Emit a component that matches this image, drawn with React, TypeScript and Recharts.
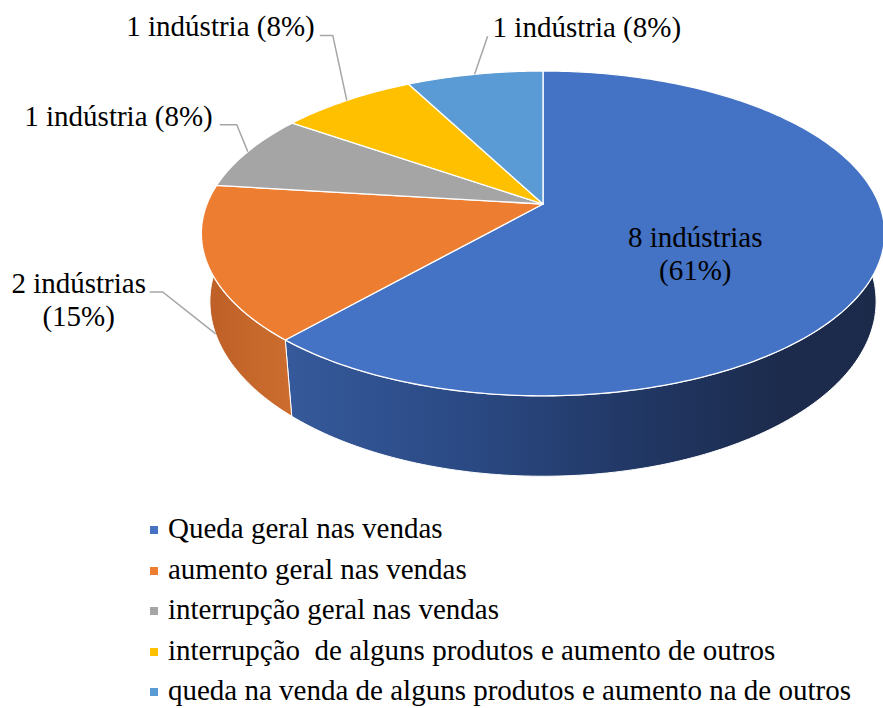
import { PieChart, Pie, Cell, Legend } from "recharts"

// categorias e valores (nº de indústrias)
const CATEGORIES = [
  "Queda geral nas vendas",
  "aumento geral nas vendas",
  "interrupção geral nas vendas",
  "interrupção  de alguns produtos e aumento de outros",
  "queda na venda de alguns produtos e aumento na de outros",
]
const INDUSTRIES = [8, 2, 1, 1, 1]
const SLICE_TEXT = [
  ["8 indústrias", "(61%)"],
  ["2 indústrias", "(15%)"],
  ["1 indústria (8%)"],
  ["1 indústria (8%)"],
  ["1 indústria (8%)"],
]

const TOP_COLORS = ["#4472C4", "#ED7D31", "#A5A5A5", "#FFC000", "#5B9BD5"]
const SIDE_STOPS: [number, string][][] = [
  [[0, "#3b60a5"], [0.13, "#35599a"], [0.38, "#2b4a85"], [0.64, "#213764"], [0.85, "#1c2b4c"], [1, "#1c2a4a"]],
  [[0, "#bd5e27"], [0.14, "#cd6e2f"], [1, "#cd6e2f"]],
  [[0, "#7c7c7c"], [1, "#7c7c7c"]],
  [[0, "#bf9000"], [1, "#bf9000"]],
  [[0, "#41719c"], [1, "#41719c"]],
]

// layout dos rótulos (relativo ao ponto de ancoragem)
const LABEL_LAYOUT = [
  { inside: true, r: 0.47, dy: 16 },
  { wall: true, ex: -53, ey: -42, run: -13, textX: -71, dir: "middle" },
  { ex: -11, ey: -27, run: -17, textX: -7, dir: "end" },
  { ex: -14, ey: -65, run: -13, textX: -5, dir: "end" },
  { ex: 13, ey: -38, run: 0, textX: 5, dir: "start" },
]

// projeção em perspectiva do disco
const TILT = 0.4676
const PERSP = 0.181
const DEPTH = 0.196
const SHRINK = 0.975
const FONT = "Liberation Serif, Times New Roman, serif"

const project = (cx: number, cy: number, R: number, deg: number, r = 1, bottom = false) => {
  const a = (deg * Math.PI) / 180
  const u = r * Math.cos(a)
  const v = r * Math.sin(a)
  const w = 1 / (1 + PERSP * v)
  const k = bottom ? SHRINK : 1
  return [cx + R * u * w * k, cy - R * TILT * v * w + (bottom ? R * DEPTH * w : 0)]
}

const arcPoints = (cx: number, cy: number, R: number, from: number, to: number, bottom = false) => {
  const n = Math.max(2, Math.ceil(Math.abs(to - from)))
  const pts: number[][] = []
  for (let i = 0; i <= n; i++) pts.push(project(cx, cy, R, from + ((to - from) * i) / n, 1, bottom))
  return pts
}

const toPath = (pts: number[][]) =>
  pts.map((p, i) => `${i ? "L" : "M"}${p[0].toFixed(2)},${p[1].toFixed(2)}`).join(" ") + " Z"

const indexOf = (p: any) => {
  const name = p.name ?? p.payload?.name
  const i = CATEGORIES.indexOf(name)
  return i >= 0 ? i : p.index ?? 0
}

const Slice3D = (props: any) => {
  const { cx, cy, outerRadius: R, startAngle, endAngle } = props
  const i = indexOf(props)
  // só a parede da frente (ângulos entre -184 e 10)
  const lo = Math.max(Math.min(startAngle, endAngle), -184)
  const hi = Math.min(Math.max(startAngle, endAngle), 10)
  const top = [[cx, cy], ...arcPoints(cx, cy, R, startAngle, endAngle)]
  const gid = `side-grad-${i}`
  return (
    <g>
      <defs>
        <linearGradient id={gid} gradientUnits="userSpaceOnUse" x1={cx - R * 1.02} y1={0} x2={cx + R * 1.02} y2={0}>
          {SIDE_STOPS[i].map(([o, c]) => (
            <stop key={o} offset={o} stopColor={c} />
          ))}
        </linearGradient>
      </defs>
      {hi > lo && (
        <path
          d={toPath([...arcPoints(cx, cy, R, lo, hi), ...arcPoints(cx, cy, R, hi, lo, true)])}
          fill={`url(#${gid})`}
          stroke="#ffffff"
          strokeWidth={1}
        />
      )}
      <path d={toPath(top)} fill={TOP_COLORS[i]} stroke="#ffffff" strokeWidth={1.3} strokeLinejoin="round" />
    </g>
  )
}

const renderLabel = (props: any) => {
  const { cx, cy, outerRadius: R, midAngle } = props
  const i = indexOf(props)
  const lay: any = LABEL_LAYOUT[i]
  const lines = SLICE_TEXT[i]

  if (lay.inside) {
    const [x, y] = project(cx, cy, R, midAngle, lay.r)
    return (
      <g>
        {lines.map((t, k) => (
          <text key={k} x={x} y={y + lay.dy + k * 33} textAnchor="middle" fontFamily={FONT} fontSize={29} fill="#000">
            {t}
          </text>
        ))}
      </g>
    )
  }

  const top = project(cx, cy, R, midAngle)
  const anchor = lay.wall ? project(cx, cy, R, midAngle, 1, true) : top
  const ex = anchor[0] + lay.ex
  const ey = anchor[1] + lay.ey
  const endX = ex + lay.run
  return (
    <g>
      <polyline
        points={`${anchor[0]},${anchor[1]} ${ex},${ey} ${endX},${ey}`}
        fill="none"
        stroke="#a6a6a6"
        strokeWidth={1.5}
      />
      {lines.map((t, k) => (
        <text key={k} x={endX + lay.textX} y={ey + 1 + k * 33} textAnchor={lay.dir} fontFamily={FONT} fontSize={29} fill="#000">
          {t}
        </text>
      ))}
    </g>
  )
}

const renderLegend = (props: any) => {
  const payload = [...(props.payload || [])].sort(
    (a: any, b: any) => CATEGORIES.indexOf(a.value) - CATEGORIES.indexOf(b.value)
  )
  return (
    <div style={{ fontFamily: FONT, fontSize: 29, color: "#000" }}>
      {payload.map((item: any, i: number) => (
        <div key={i} style={{ display: "flex", alignItems: "center", height: 40.5, whiteSpace: "pre" }}>
          <span
            style={{
              display: "inline-block",
              width: 8,
              height: 8,
              marginRight: 10,
              position: "relative",
              top: 2,
              background: TOP_COLORS[CATEGORIES.indexOf(item.value)] || item.color,
            }}
          />
          <span style={{ lineHeight: "40.5px" }}>{item.value}</span>
        </div>
      ))}
    </div>
  )
}

const data = CATEGORIES.map((name, i) => ({ name, value: INDUSTRIES[i] }))

export default function App() {
  return (
    <div style={{ position: "absolute", left: 0, top: 0, width: 883, height: 708, background: "#fff", overflow: "hidden" }}>
      <PieChart width={883} height={708} margin={{ top: 0, right: 0, bottom: 0, left: 0 }}>
        <Pie
          data={data}
          dataKey="value"
          nameKey="name"
          cx={543}
          cy={204}
          outerRadius={336}
          startAngle={90}
          endAngle={-270}
          shape={Slice3D}
          label={renderLabel}
          labelLine={false}
          stroke="none"
          isAnimationActive={false}
        >
          {data.map((d, i) => (
            <Cell key={d.name} fill={TOP_COLORS[i]} />
          ))}
        </Pie>
        <Legend
          content={renderLegend}
          wrapperStyle={{ left: 150, top: 508, width: 733 }}
        />
      </PieChart>
    </div>
  )
}
